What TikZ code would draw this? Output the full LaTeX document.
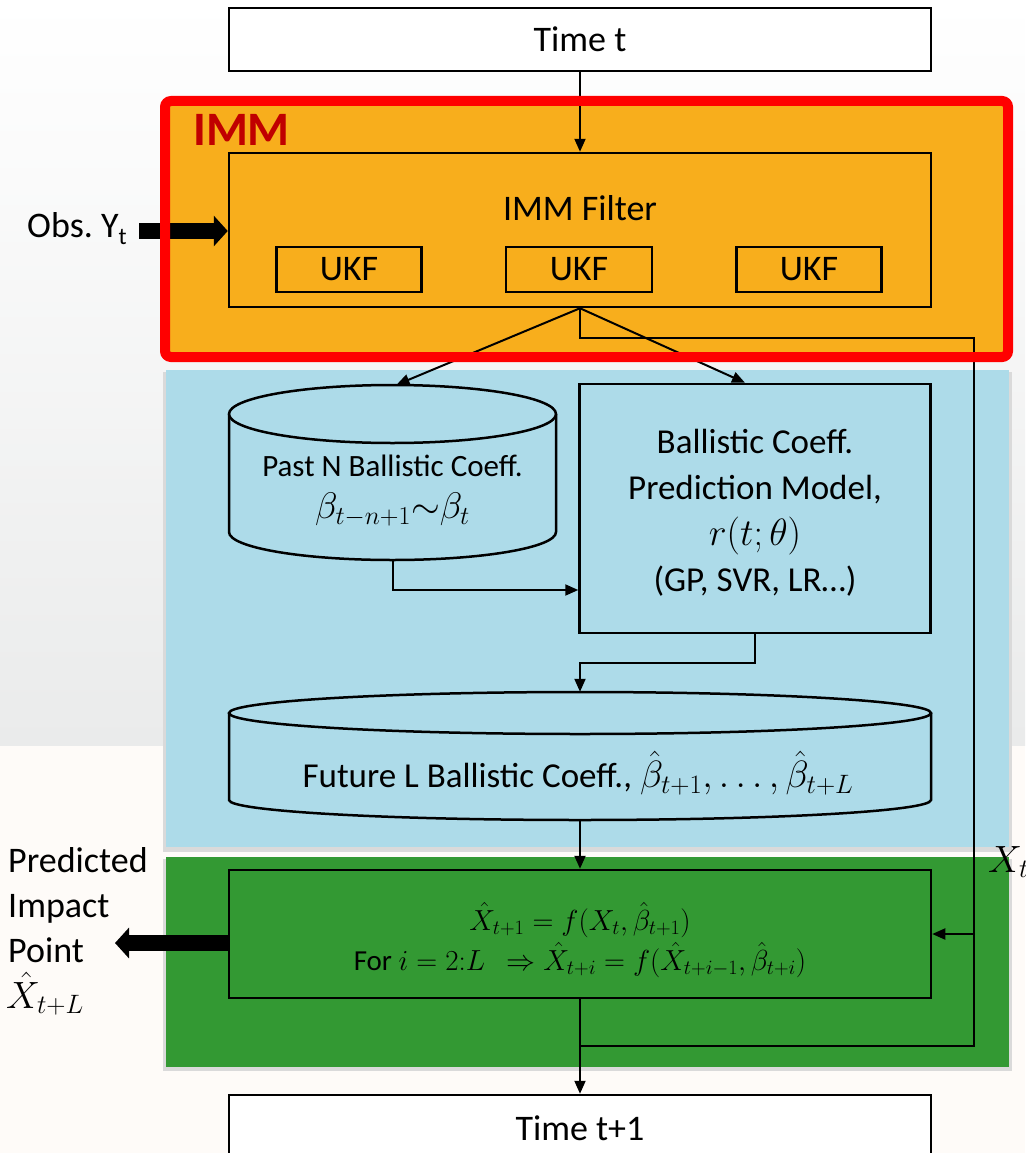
\RequirePackage{fix-cm}
\documentclass[tikz,border=0pt]{standalone}
\usepackage{fontspec}
\setmainfont{Carlito}
\usetikzlibrary{arrows.meta,calc}
\definecolor{immOrange}{HTML}{F8AE1C}
\definecolor{immRed}{HTML}{FF0000}
\definecolor{immDark}{HTML}{C00000}
\definecolor{panelBlue}{HTML}{ADDBE9}
\definecolor{panelGreen}{HTML}{339933}
\definecolor{bgGray}{HTML}{EAEBEB}
\definecolor{bgCream}{HTML}{FEFBF8}
\definecolor{shadowGray}{HTML}{DADADA}
\begin{document}
\begin{tikzpicture}[x=1pt,y=-1pt,
  box/.style={draw=black, line width=2.5pt, inner sep=0pt},
  arr/.style={line width=2pt, -{Triangle[length=13pt,width=11pt]}},
  link/.style={line width=2pt},
  fat/.style={line width=16pt, -{Triangle[length=14pt,width=30pt]}},
  big/.style={font=\fontsize{36}{44}\selectfont},
  mid/.style={font=\fontsize{35}{46}\selectfont},
  small/.style={font=\fontsize{31}{36}\selectfont},
  eqn/.style={font=\fontsize{29}{40}\selectfont},
  plain/.style={inner sep=0pt}
]
\useasboundingbox (0,0) rectangle (1025,1153);

% page background
\fill[bgCream] (0,0) rectangle (1025,1153);
\shade[top color=white, bottom color=bgGray] (0,0) rectangle (1025,745);

% section panels with soft shadows
\fill[immOrange] (165,101) rectangle (1008,357);
\fill[shadowGray] (163,372) rectangle (1012,852);
\fill[panelBlue] (166,370) rectangle (1009,847);
\fill[shadowGray] (163,859) rectangle (1012,1071);
\fill[panelGreen] (166,857) rectangle (1009,1067);

% boxes
\node[box, fill=white, minimum width=702pt, minimum height=63pt, big] (timet) at (580,39.5) {Time t};
\node[box, minimum width=702pt, minimum height=154pt] (imm) at (580,230) {};
\node[plain, big] (immtxt) at (580,208.5) {IMM Filter};
\node[box, minimum width=145pt, minimum height=45pt, big] (ukfa) at (349,269.5) {UKF};
\node[box, minimum width=146pt, minimum height=45pt, big] (ukfb) at (579,269.5) {UKF};
\node[box, minimum width=145pt, minimum height=45pt, big] (ukfc) at (809,269.5) {UKF};

% past coefficients store
\node[plain, minimum width=327pt, minimum height=175pt] (past) at (392.5,472.5) {};
\draw[line width=2.5pt, fill=panelBlue] (229,414) -- (229,532)
  arc[start angle=180, end angle=360, x radius=163.5pt, y radius=28pt] -- (556,414);
\draw[line width=2.5pt, fill=panelBlue] (392.5,414) ellipse [x radius=163.5pt, y radius=29pt];
\node[plain, small] (pasttxt) at (392.5,466) {Past N Ballistic Coeff.};
\node[plain, font=\fontsize{37}{40}\selectfont] (pastbeta) at (392.5,510) {$\beta_{t-n+1}{\sim}\beta_t$};

% prediction model
\node[box, minimum width=351pt, minimum height=249pt, mid, align=center] (pred) at (755,508.5) {};
\node[plain, mid, align=center] (predtxt) at (755,512.5)
  {Ballistic Coeff.\\Prediction Model,\\{\fontsize{38}{46}\selectfont$r(t;\theta)$}\\(GP, SVR, LR…)};

% future coefficients store
\node[plain, minimum width=702pt, minimum height=128pt] (future) at (580,756) {};
\draw[line width=2.5pt, fill=panelBlue] (229,713) -- (229,800)
  arc[start angle=180, end angle=360, x radius=351pt, y radius=20pt] -- (931,713);
\draw[line width=2.5pt, fill=panelBlue] (580,713) ellipse [x radius=351pt, y radius=21pt];
\node[plain, mid] (futtxt) at (578,773)
  {Future L Ballistic Coeff., {\fontsize{38}{46}\selectfont$\hat\beta_{t+1},\ldots,\hat\beta_{t+L}$}};

% propagation box
\node[box, minimum width=702pt, minimum height=128pt] (calc) at (580,934) {};
\node[plain, eqn, align=center] (calctxt) at (580,940)
  {$\hat X_{t+1}=f(X_t,\hat\beta_{t+1})$\\
   For $i=2{:}L\ \ \Rightarrow\hat X_{t+i}=f(\hat X_{t+i-1},\hat\beta_{t+i})$};

\node[box, fill=white, minimum width=702pt, minimum height=70pt] (timet1) at (580,1130) {};
\node[plain, big] (timet1txt) at (580,1128) {Time t+1};

% side labels
\node[plain, big, anchor=west] (obs) at (27,229) {Obs.\ Y\raisebox{-7pt}{\fontsize{24}{24}\selectfont t}};
\node[plain, big, anchor=base west] (lbl1) at (8,872) {Predicted};
\node[plain, big, anchor=base west] (lbl2) at (8,917) {Impact};
\node[plain, big, anchor=base west] (lbl3) at (8,962) {Point};
\node[plain, font=\fontsize{38}{44}\selectfont, anchor=base west] (lbl4) at (6,1008) {$\hat X_{t+L}$};
\node[plain, font=\fontsize{38}{44}\selectfont, anchor=west] (xt) at (988,862) {$X_t$};

% connectors
\coordinate (loopTR) at (974,338);
\coordinate (loopBR) at (974,1046);
\coordinate (obsTail) at (139,231);
\coordinate (outTip) at (115,943);

\draw[arr] (timet.south) -- (imm.north);
\draw[arr] (imm.south) -- ([xshift=4pt]past.north);
\draw[arr] (imm.south) -- ([xshift=-10pt]pred.north);
\draw[link] (imm.south) |- (loopTR) -- (loopBR) -| (calc.south);
\draw[arr] (loopTR |- calc.east) -- (calc.east);
\draw[arr] (past.south) |- ([yshift=-81.5pt]pred.west);
\draw[arr] (pred.south) -- ++(0,29) -| (future.north);
\draw[arr] (future.south) -- (calc.north);
\draw[arr] (calc.south) -- (timet1.north);
\draw[fat] (obsTail) -- (obsTail -| imm.west);
\draw[fat] (calc.west |- outTip) -- (outTip);

% IMM frame
\draw[immRed, line width=10pt, rounded corners=6pt] (165,101) rectangle (1008,357);
\node[plain, text=immDark, anchor=west, font=\fontsize{48}{52}\bfseries\selectfont] (immlbl) at (193,130) {IMM};
\end{tikzpicture}
\end{document}
